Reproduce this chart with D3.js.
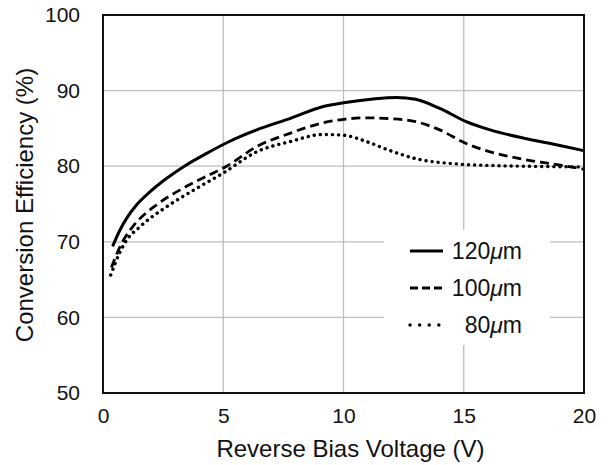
<!DOCTYPE html>
<html>
<head>
<meta charset="utf-8">
<script src="https://cdn.jsdelivr.net/npm/d3@7"></script>
<style>
  body { margin: 0; background: #fff; }
  text { font-family: "Liberation Sans", Helvetica, Arial, sans-serif; fill: #111; }
</style>
</head>
<body>
<svg width="608" height="465"></svg>
<script>
// series: [voltage, efficiency]
const s120 = [[0.4,69.4],[0.71,71.6],[0.98,73.1],[1.4,74.9],[1.95,76.6],[2.65,78.4],[3.48,80.2],[4.31,81.7],
  [5.21,83.2],[6.39,84.8],[7.77,86.3],[9.16,87.9],[10.0,88.4],[11.23,88.9],[12.2,89.1],[13.0,88.85],
  [14.0,87.65],[15.1,85.9],[16.1,84.8],[17.5,83.7],[18.9,82.8],[20,82.05]];
const s100 = [[0.35,66.6],[0.7,69.3],[0.98,70.9],[1.26,72.1],[2.23,74.9],[3.34,77.1],[4.45,78.9],[5.14,80.0],
  [6.39,82.6],[7.77,84.35],[9.16,85.75],[10.0,86.2],[10.96,86.4],[11.9,86.3],[13.0,85.9],[14.0,84.8],
  [15.1,83.0],[16.1,81.9],[17.5,80.9],[18.9,80.2],[20,79.6]];
const s80 = [[0.32,65.6],[0.7,68.6],[0.98,70.2],[1.54,72.0],[2.65,74.65],[3.75,76.8],[5.0,79.1],[6.39,81.9],
  [7.77,83.25],[9.16,84.2],[10.0,84.1],[10.96,83.25],[11.9,82.1],[13.0,81.0],[14.7,80.3],[16.1,80.1],
  [17.5,80.0],[20,79.9]];
const seriesNames = ["120", "100", "80"];   // followed by an italic mu + "m"
const xTicks = [0, 5, 10, 15, 20];
const yTicks = [50, 60, 70, 80, 90, 100];

const margin = { top: 15, right: 24, bottom: 72, left: 103 },
    width = 608 - margin.left - margin.right,
    height = 465 - margin.top - margin.bottom;

const svg = d3.select("svg")
    .append("g")
    .attr("transform", `translate(${margin.left},${margin.top})`);

const xScale = d3.scaleLinear().domain([0, 20]).range([0, width]);
const yScale = d3.scaleLinear().domain([50, 100]).range([height, 0]);

// grid
svg.append("g").selectAll("line").data(xTicks.slice(1, -1)).enter().append("line")
    .attr("x1", d => xScale(d)).attr("x2", d => xScale(d))
    .attr("y1", 0).attr("y2", height)
    .attr("stroke", "#bdbdbd").attr("stroke-width", 1.3);
svg.append("g").selectAll("line").data(yTicks.slice(1, -1)).enter().append("line")
    .attr("y1", d => yScale(d)).attr("y2", d => yScale(d))
    .attr("x1", 0).attr("x2", width)
    .attr("stroke", "#bdbdbd").attr("stroke-width", 1.3);

// axes (labels only, lines hidden)
const xAxis = svg.append("g")
    .attr("transform", `translate(0,${height})`)
    .call(d3.axisBottom(xScale).tickValues(xTicks).tickSize(0).tickPadding(15));
const yAxis = svg.append("g")
    .call(d3.axisLeft(yScale).tickValues(yTicks).tickSize(0).tickPadding(23));
[xAxis, yAxis].forEach(a => {
    a.select(".domain").remove();
    a.selectAll("text").style("font-size", "21px").attr("fill", "#111")
      .style("font-family", '"Liberation Sans", Helvetica, Arial, sans-serif');
});

// legend background hides grid
svg.append("rect")
    .attr("x", 384 - margin.left).attr("y", 230 - margin.top)
    .attr("width", 166).attr("height", 115)
    .attr("fill", "#fff");

const line = d3.line().curve(d3.curveMonotoneX)
    .x(d => xScale(d[0])).y(d => yScale(d[1]));

const styles = [
    { dash: null, w: 3, cap: "butt" },
    { dash: "9,5", w: 2.8, cap: "butt" },
    { dash: "0.1,6", w: 3.4, cap: "round" }
];
[s120, s100, s80].forEach((s, i) => {
    svg.append("path").datum(s)
        .attr("fill", "none").attr("stroke", "#000")
        .attr("stroke-width", styles[i].w)
        .attr("stroke-dasharray", styles[i].dash)
        .attr("stroke-linecap", styles[i].cap)
        .attr("d", line);
});

// frame
svg.append("rect").attr("width", width).attr("height", height)
    .attr("fill", "none").attr("stroke", "#111").attr("stroke-width", 2);

// legend
const leg = svg.append("g").attr("transform", `translate(${410 - margin.left},${251 - margin.top})`);
seriesNames.forEach((n, i) => {
    const y = i * 37;
    leg.append("line").attr("x1", 0).attr("x2", 33).attr("y1", y).attr("y2", y)
        .attr("stroke", "#000").attr("stroke-width", styles[i].w)
        .attr("stroke-dasharray", i === 1 ? "8,4" : (i === 2 ? "0.1,9.5" : null))
        .attr("stroke-linecap", styles[i].cap);
    const t = leg.append("text").attr("x", 112).attr("y", y + 8)
        .attr("text-anchor", "end")
        .style("font-size", "23px");
    t.append("tspan").text(n);
    t.append("tspan").style("font-style", "italic").text("\u03bc");
    t.append("tspan").text("m");
});

// axis titles
svg.append("text")
    .attr("x", width / 2 + 7).attr("y", height + 64)
    .attr("text-anchor", "middle").style("font-size", "24px")
    .text("Reverse Bias Voltage (V)");
svg.append("text")
    .attr("transform", `translate(${-70},${height / 2 + 1}) rotate(-90)`)
    .attr("text-anchor", "middle").style("font-size", "24px")
    .text("Conversion Efficiency (%)");
</script>
</body>
</html>
